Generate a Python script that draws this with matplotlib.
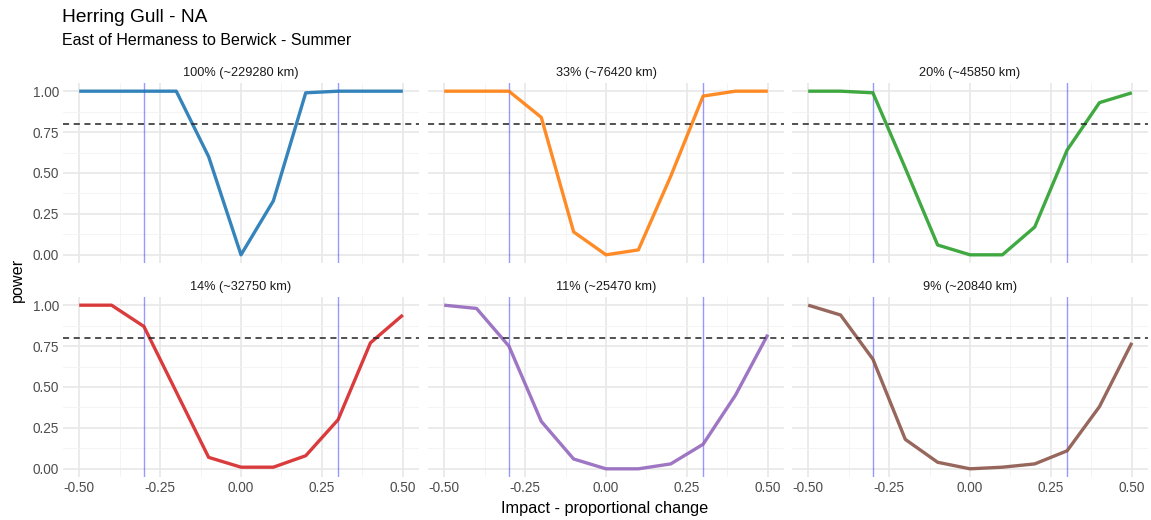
import numpy as np
import matplotlib
matplotlib.use('Agg')
import matplotlib.pyplot as plt
from matplotlib.ticker import MultipleLocator

plt.rcParams['font.family'] = ['Liberation Sans', 'DejaVu Sans']

# Data
impact = [-0.5, -0.4, -0.3, -0.2, -0.1, 0.0, 0.1, 0.2, 0.3, 0.4, 0.5]
panel_titles = ['100% (~229280 km)', '33% (~76420 km)', '20% (~45850 km)',
                '14% (~32750 km)', '11% (~25470 km)', '9% (~20840 km)']
power_100 = [1.00, 1.00, 1.00, 1.00, 0.60, 0.00, 0.33, 0.99, 1.00, 1.00, 1.00]
power_33 = [1.00, 1.00, 1.00, 0.84, 0.14, 0.00, 0.03, 0.48, 0.97, 1.00, 1.00]
power_20 = [1.00, 1.00, 0.99, 0.53, 0.06, 0.00, 0.00, 0.17, 0.64, 0.93, 0.99]
power_14 = [1.00, 1.00, 0.87, 0.47, 0.07, 0.01, 0.01, 0.08, 0.30, 0.77, 0.94]
power_11 = [1.00, 0.98, 0.75, 0.29, 0.06, 0.00, 0.00, 0.03, 0.15, 0.45, 0.82]
power_9 = [1.00, 0.94, 0.67, 0.18, 0.04, 0.00, 0.01, 0.03, 0.11, 0.38, 0.77]
series = [power_100, power_33, power_20, power_14, power_11, power_9]
colors = ['#1f77b4', '#ff7f0e', '#2ca02c', '#d62728', '#9467bd', '#8c564b']
threshold = 0.8
impact_lines = [-0.3, 0.3]

W, H = 1151, 520
fig = plt.figure(figsize=(W / 100, H / 100), dpi=100)
fig.patch.set_facecolor('white')

col_left = [63, 428, 792]
col_w = 356
row_top = [83, 297]
row_h = 180

for i, (vals, title, color) in enumerate(zip(series, panel_titles, colors)):
    r, c = divmod(i, 3)
    ax = fig.add_axes([col_left[c] / W, 1 - (row_top[r] + row_h) / H,
                       col_w / W, row_h / H])
    ax.set_xlim(-0.55, 0.55)
    ax.set_ylim(-0.05, 1.05)
    ax.xaxis.set_major_locator(MultipleLocator(0.25))
    ax.xaxis.set_minor_locator(MultipleLocator(0.125))
    ax.yaxis.set_major_locator(MultipleLocator(0.25))
    ax.yaxis.set_minor_locator(MultipleLocator(0.125))
    ax.grid(True, which='major', color='#e8e8e8', linewidth=1.2)
    ax.grid(True, which='minor', color='#f2f2f2', linewidth=0.6)
    ax.set_axisbelow(True)
    for s in ax.spines.values():
        s.set_visible(False)
    ax.tick_params(which='both', length=0, labelsize=9.8, labelcolor='#4d4d4d', pad=3)
    if c == 0:
        ax.yaxis.set_major_formatter(lambda v, p: f'{v:.2f}')
    else:
        ax.set_yticklabels([])
    if r == 1:
        ax.xaxis.set_major_formatter(lambda v, p: f'{v:.2f}')
    else:
        ax.set_xticklabels([])

    ax.plot(impact, vals, color=color, linewidth=2.4, alpha=0.9, zorder=3,
            solid_capstyle='butt')
    for xv in impact_lines:
        ax.axvline(xv, color='#3333ff', alpha=0.5, linewidth=1.0, zorder=2)
    ax.axhline(threshold, color='#222222', linewidth=1.1, linestyle=(0, (4, 3)), zorder=4)
    ax.set_title(title, fontsize=9.2, color='#1a1a1a', pad=5)

fig.text(62 / W, 1 - 17 / H, 'Herring Gull - NA', fontsize=13.8, color='black',
         ha='left', va='center')
fig.text(62 / W, 1 - 41 / H, 'East of Hermaness to Berwick - Summer', fontsize=11.5,
         color='black', ha='left', va='center')
fig.text(605 / W, 1 - 509 / H, 'Impact - proportional change', fontsize=11.7,
         ha='center', va='center')
fig.text(17 / W, 1 - 280 / H, 'power', fontsize=11.7, rotation=90,
         ha='center', va='center')

fig.savefig('out.png', dpi=100, facecolor='white')
